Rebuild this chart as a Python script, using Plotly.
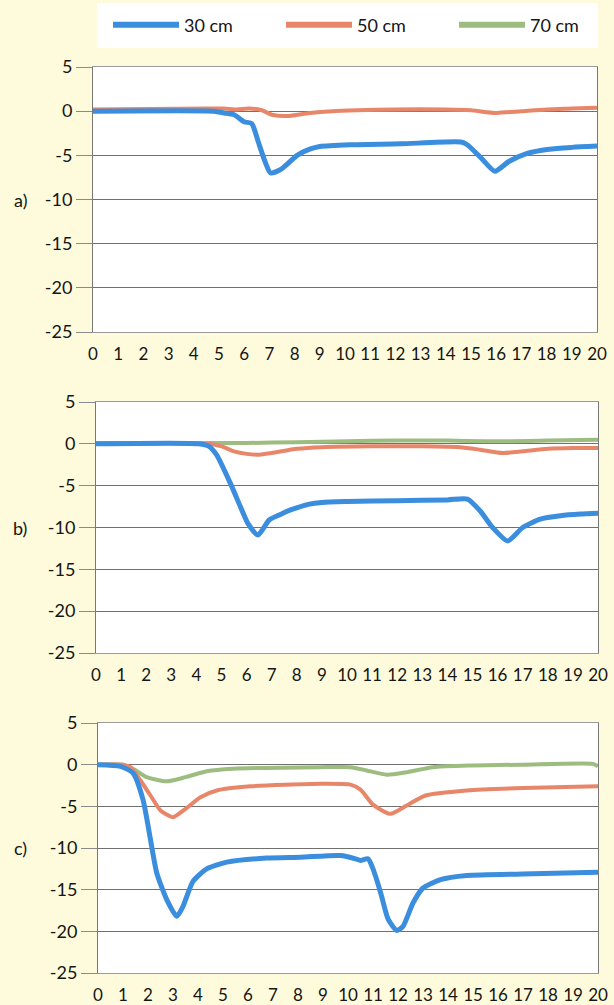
import plotly.graph_objects as go

# ---------------- data ----------------
xticks = list(range(0, 21))
yticks = [5, 0, -5, -10, -15, -20, -25]
ytick_text = ["5", "0", "-5", "-10", "-15", "-20", "-25"]
series_names = ["30 cm", "50 cm", "70 cm"]
panel_labels = ["a)", "b)", "c)"]

# panel a
x_a30 = [0, 4.8, 5.2, 5.6, 6.0, 6.3, 6.55, 6.8, 7.05, 7.5, 8.1, 8.6, 9.0, 10.2, 12.2, 14.6, 14.85, 15.4, 15.95, 16.5, 17.2, 18.1, 19.0, 20]
y_a30 = [0, 0, -0.2, -0.4, -1.2, -1.4, -3.4, -5.5, -7.0, -6.5, -5.0, -4.3, -4.0, -3.8, -3.7, -3.5, -3.8, -5.3, -6.8, -5.7, -4.8, -4.3, -4.1, -3.95]
x_a50 = [0, 4.5, 5.2, 5.7, 6.2, 6.7, 7.1, 7.7, 8.6, 9.5, 10.5, 12, 14, 15, 16, 17, 18, 19, 20]
y_a50 = [0.2, 0.3, 0.3, 0.2, 0.3, 0.1, -0.4, -0.55, -0.2, 0.0, 0.1, 0.2, 0.2, 0.1, -0.2, 0.0, 0.2, 0.3, 0.4]

# panel b
x_b30 = [0, 4.1, 4.5, 4.8, 5.35, 5.75, 6.05, 6.45, 6.9, 7.3, 7.75, 8.5, 9.0, 10, 12, 14, 14.8, 15.3, 15.8, 16.4, 17.0, 17.7, 18.5, 19.3, 20]
y_b30 = [0, 0, -0.3, -1.3, -4.7, -7.5, -9.5, -10.9, -9.1, -8.5, -7.9, -7.2, -7.0, -6.9, -6.8, -6.7, -6.6, -8.0, -10.0, -11.6, -10.0, -9.0, -8.6, -8.4, -8.3]
x_b50 = [0, 4.5, 5.0, 5.5, 6.0, 6.5, 7.0, 8.0, 9.0, 11, 13, 14.5, 15.3, 16.2, 17, 18, 19, 20]
y_b50 = [0, 0, -0.3, -0.9, -1.2, -1.3, -1.1, -0.6, -0.4, -0.3, -0.3, -0.4, -0.7, -1.1, -0.9, -0.6, -0.5, -0.5]
x_b70 = [0, 4, 6, 8, 10, 12, 14, 15.5, 16.5, 18, 20]
y_b70 = [0.1, 0.1, 0.1, 0.2, 0.3, 0.4, 0.4, 0.3, 0.3, 0.4, 0.5]

# panel c
x_c30 = [0, 0.9, 1.4, 1.8, 2.1, 2.35, 2.75, 3.15, 3.4, 3.8, 4.35, 5.15, 6.75, 8.1, 9.7, 10.3, 10.5, 10.8, 11.0, 11.3, 11.6, 11.95, 12.2, 12.6, 13.0, 13.7, 14.75, 17.4, 20]
y_c30 = [0, -0.2, -1.0, -4.2, -9.0, -13.0, -16.2, -18.2, -17.0, -14.0, -12.5, -11.7, -11.2, -11.1, -10.9, -11.3, -11.5, -11.3, -12.5, -15.3, -18.5, -19.9, -19.4, -16.6, -14.8, -13.8, -13.3, -13.1, -12.9]
x_c50 = [0, 1.0, 1.3, 1.7, 2.1, 2.5, 3.0, 3.5, 4.1, 4.75, 6.1, 8.9, 10.1, 10.5, 11.0, 11.7, 12.35, 13.1, 14.75, 17, 20]
y_c50 = [0, 0, -0.3, -1.9, -3.7, -5.5, -6.3, -5.3, -3.9, -3.1, -2.6, -2.3, -2.4, -3.0, -4.8, -5.9, -4.9, -3.7, -3.1, -2.8, -2.6]
x_c70 = [0, 1.0, 1.4, 1.95, 2.75, 3.5, 4.35, 5.4, 8.9, 10.1, 10.75, 11.55, 12.35, 13.4, 15, 17, 19.8, 20]
y_c70 = [0, 0, -0.5, -1.5, -2.0, -1.5, -0.8, -0.5, -0.3, -0.3, -0.7, -1.2, -0.9, -0.3, -0.1, 0.0, 0.1, -0.2]

# ---------------- style ----------------
W, H = 614, 1005
BG = "#FEFBDC"
COLORS = {"30 cm": "#3B8EDD", "50 cm": "#E8866A", "70 cm": "#9DBD80"}
WIDTHS = {"30 cm": 5, "50 cm": 4, "70 cm": 4}
FONT = "Lato"
TXT = "#151515"

# pixel boxes (left, right, top, bottom) for each panel
boxes = [(93, 597, 67, 332), (96, 598, 402, 653), (98, 598, 723, 973)]

panels = [
    {"30 cm": (x_a30, y_a30), "50 cm": (x_a50, y_a50)},
    {"30 cm": (x_b30, y_b30), "50 cm": (x_b50, y_b50), "70 cm": (x_b70, y_b70)},
    {"30 cm": (x_c30, y_c30), "50 cm": (x_c50, y_c50), "70 cm": (x_c70, y_c70)},
]

fig = go.Figure()
for i, panel in enumerate(panels):
    xa = "x" if i == 0 else f"x{i+1}"
    ya = "y" if i == 0 else f"y{i+1}"
    for name in ["70 cm", "50 cm", "30 cm"]:
        if name not in panel:
            continue
        xs, ys = panel[name]
        fig.add_trace(go.Scatter(
            x=xs, y=ys, mode="lines", name=name,
            line=dict(color=COLORS[name], width=WIDTHS[name], shape="spline", smoothing=0.6),
            xaxis=xa, yaxis=ya, showlegend=False,
        ))

# legend entries
for name in series_names:
    fig.add_trace(go.Scatter(
        x=[None], y=[None], mode="lines", name=name,
        line=dict(color=COLORS[name], width=6),
        showlegend=True, xaxis="x", yaxis="y",
    ))

layout = dict(
    width=W, height=H,
    margin=dict(l=0, r=0, t=0, b=0, autoexpand=False),
    paper_bgcolor=BG, plot_bgcolor="white",
    font=dict(family=FONT, size=16, color=TXT),
    showlegend=True,
    legend=dict(
        orientation="h", xref="container", yref="container",
        x=108 / W, xanchor="left", y=1 - 25 / H, yanchor="middle",
        bgcolor="rgba(0,0,0,0)", font=dict(size=18, color=TXT),
        entrywidth=92, entrywidthmode="pixels", itemwidth=66,
        traceorder="normal",
    ),
    shapes=[dict(type="rect", xref="paper", yref="paper",
                 x0=97 / W, x1=598 / W, y0=1 - 48 / H, y1=1 - 3 / H,
                 fillcolor="white", line=dict(width=0), layer="below")],
    annotations=[],
)

for i, (l, r, t, b) in enumerate(boxes):
    xk = "xaxis" if i == 0 else f"xaxis{i+1}"
    yk = "yaxis" if i == 0 else f"yaxis{i+1}"
    anchor_x = "y" if i == 0 else f"y{i+1}"
    anchor_y = "x" if i == 0 else f"x{i+1}"
    layout[xk] = dict(
        domain=[l / W, r / W], anchor=anchor_x, range=[0, 20],
        tickvals=xticks, ticktext=[str(v) for v in xticks],
        ticks="", ticklabelstandoff=7, showgrid=False, zeroline=False,
        showline=True, linecolor="#9a9a9a", linewidth=1, mirror=True,
        tickfont=dict(size=17, color=TXT), fixedrange=True, automargin=False,
    )
    layout[yk] = dict(
        domain=[1 - b / H, 1 - t / H], anchor=anchor_y, range=[-25, 5],
        tickvals=yticks, ticktext=ytick_text, ticks="outside", ticklen=16, tickcolor="#8a8a8a",
        showgrid=True, gridcolor="#707070", gridwidth=1, zeroline=False,
        showline=True, linecolor="#777777", linewidth=1, mirror=True,
        tickfont=dict(size=18, color=TXT), fixedrange=True, automargin=False,
    )
    ymid = t + (b - t) * (15 / 30)
    layout["annotations"].append(dict(
        text=panel_labels[i], xref="paper", yref="paper",
        x=20 / W, y=1 - ymid / H, xanchor="center", yanchor="middle",
        showarrow=False, font=dict(size=18, color=TXT),
    ))

fig.update_layout(**layout)
fig.write_html(
    "out.html",
    config={"displayModeBar": False},
    post_script="document.body.style.margin='0px';document.body.style.overflow='hidden';",
)
